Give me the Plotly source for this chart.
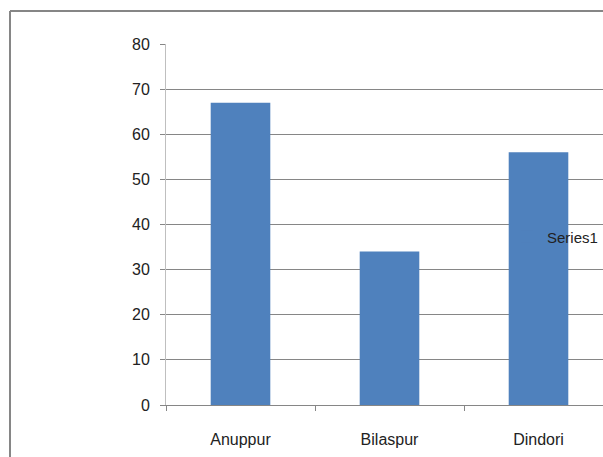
import plotly.graph_objects as go

districts = ["Anuppur", "Bilaspur", "Dindori"]
values = [67, 34, 56]
series_name = "Series1"
y_ticks = [0, 10, 20, 30, 40, 50, 60, 70, 80]

W, H = 603, 457
L, R, T, B = 166, 0, 44, 52
pw, ph = W - L - R, H - T - B

font = dict(family="Liberation Sans Narrow, Arial Narrow, sans-serif", size=16, color="#222222")

fig = go.Figure(
    go.Bar(
        x=districts,
        y=values,
        name=series_name,
        marker=dict(color="#4F81BD", line=dict(width=0)),
        width=0.4,
        showlegend=True,
    )
)

# outer chart frame (left and top edges visible)
def px_x(x):
    return (x - L) / pw

def px_y(y):
    return 1 - (y - T) / ph

fig.add_shape(type="line", xref="paper", yref="paper",
              x0=px_x(10), x1=px_x(620), y0=px_y(11), y1=px_y(11),
              line=dict(color="#868686", width=2))
fig.add_shape(type="line", xref="paper", yref="paper",
              x0=px_x(10), x1=px_x(10), y0=px_y(11), y1=px_y(470),
              line=dict(color="#868686", width=2))

fig.update_layout(
    width=W, height=H,
    margin=dict(l=L, r=R, t=T, b=B, autoexpand=False),
    paper_bgcolor="white",
    plot_bgcolor="white",
    font=font,
    legend=dict(
        x=px_x(507), y=px_y(237), xanchor="left", yanchor="middle",
        bgcolor="rgba(0,0,0,0)", font=dict(font, size=15),
        itemwidth=30,
    ),
    xaxis=dict(
        type="category",
        range=[-0.5, -0.5 + pw / 149.0],
        showgrid=False,
        showline=True, linecolor="#868686", linewidth=1,
        ticks="outside", tickson="boundaries", ticklen=5, tickcolor="#868686",
        ticklabelstandoff=20,
        tickfont=font,
    ),
    yaxis=dict(
        range=[0, 80],
        tickvals=y_ticks,
        showgrid=True, gridcolor="#868686", gridwidth=1,
        showline=True, linecolor="#BFBFBF", linewidth=1,
        ticks="outside", ticklen=5, tickcolor="#868686",
        ticklabelstandoff=7,
        tickfont=font,
        zeroline=False,
    ),
)

fig.write_html("out.html")
